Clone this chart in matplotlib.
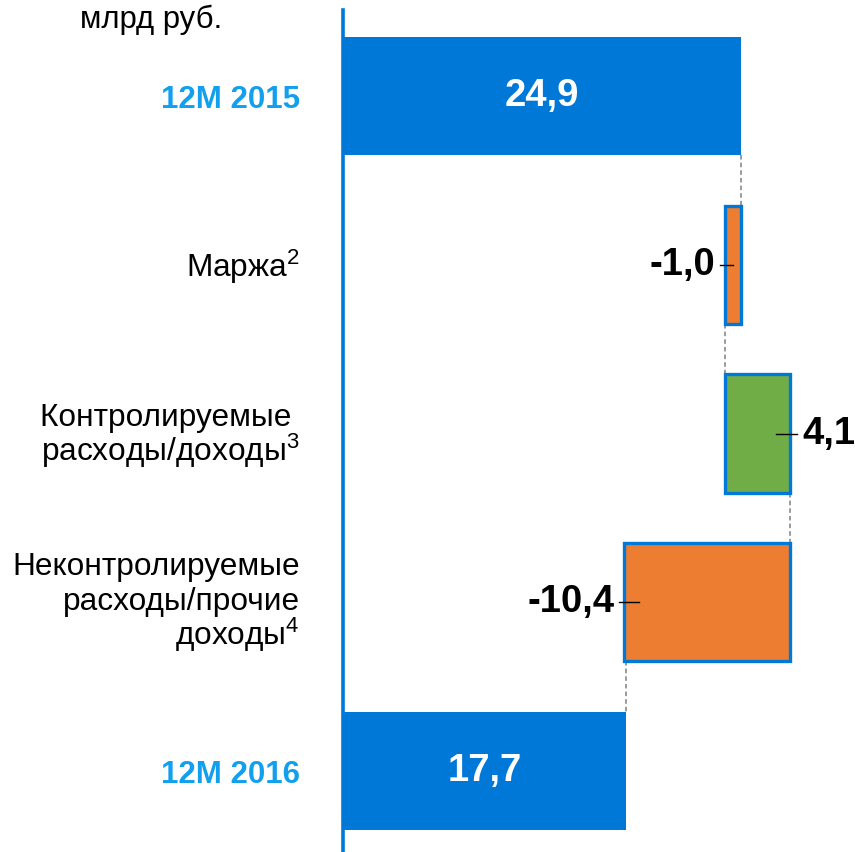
import matplotlib
matplotlib.use("Agg")
import matplotlib.pyplot as plt

plt.rcParams['font.family'] = ['Liberation Sans', 'DejaVu Sans']
plt.rcParams['mathtext.fontset'] = 'custom'
plt.rcParams['mathtext.rm'] = 'Liberation Sans'
plt.rcParams['mathtext.it'] = 'Liberation Sans'
plt.rcParams['mathtext.bf'] = 'Liberation Sans:bold'

categories = ["12M 2015", r"Маржа$^{\mathrm{2}}$",
              "Контролируемые \n" + r"расходы/доходы$^{\mathrm{3}}$",
              "Неконтролируемые\nрасходы/прочие\n" + r"доходы$^{\mathrm{4}}$", "12M 2016"]
values = [24.9, -1.0, 4.1, -10.4, 17.7]
kinds = ["total", "delta", "delta", "delta", "total"]
value_labels = ["24,9", "-1,0", "4,1", "-10,4", "17,7"]
unit_label = "млрд руб."

BLUE = "#0078D7"
LABEL_BLUE = "#12A0EE"
ORANGE = "#ED7D31"
GREEN = "#70AD47"
PX = 0.72  # points per pixel at dpi 100

fig = plt.figure(figsize=(8.55, 8.52), dpi=100)
ax = fig.add_axes([343/855, 0, 1 - 343/855, 1 - 10/852])

bh = 0.7
running = 0.0
for i, (cat, v, k, lab) in enumerate(zip(categories, values, kinds, value_labels)):
    if k == "total":
        ax.barh(i, v, left=0, height=bh, color=BLUE, edgecolor="none")
        ax.text(v / 2, i, lab, color="white", fontsize=27.5, fontweight="bold",
                ha="center", va="center")
        running = v
        conn_x = v
    else:
        start = running
        end = running + v
        left = min(start, end)
        ax.barh(i, abs(v), left=left, height=bh,
                color=GREEN if v > 0 else ORANGE, edgecolor=BLUE, linewidth=2.4)
        inner = min(0.9, abs(v) / 2)
        if v < 0:
            edge = left
            ax.plot([edge - 0.3, edge + inner], [i, i], color="black", lw=1.0)
            ax.text(edge - 0.6, i, lab, fontsize=27.5, fontweight="bold",
                    ha="right", va="center")
        else:
            edge = left + abs(v)
            ax.plot([edge - inner, edge + 0.4], [i, i], color="black", lw=1.0)
            ax.text(edge + 0.75, i, lab, fontsize=27.5, fontweight="bold",
                    ha="left", va="center")
        running = end
        conn_x = start
    if i > 0:
        ax.plot([conn_x, conn_x], [i - 1 + bh / 2, i - bh / 2], color="#808080",
                lw=1.1, ls=(0, (3, 2)), zorder=0)
    is_total = k == "total"
    lines = cat.split("\n")
    n = len(lines)
    for j, line in enumerate(lines):
        base_px = 12 + (j - (n - 1) / 2) * 35 - (n - 1) * 2
        ax.annotate(line, xy=(-0.084, i), xycoords=ax.get_yaxis_transform(),
                    xytext=(0, -base_px * PX), textcoords="offset points",
                    ha="right", va="baseline",
                    fontsize=22.5 if is_total else 22.8,
                    fontweight="bold" if is_total else "normal",
                    color=LABEL_BLUE if is_total else "black")

ax.set_xlim(0, 512 / 15.98)
ax.set_ylim(4.48, -0.51)
for s in ["top", "right", "bottom"]:
    ax.spines[s].set_visible(False)
ax.spines["left"].set_color(BLUE)
ax.spines["left"].set_linewidth(2.6)
ax.set_xticks([])
ax.set_yticks([])
ax.patch.set_alpha(0)

fig.text(151 / 855, 1 - 20 / 852, unit_label, ha="center", va="center", fontsize=22.4)

fig.savefig("out.png", dpi=100)
